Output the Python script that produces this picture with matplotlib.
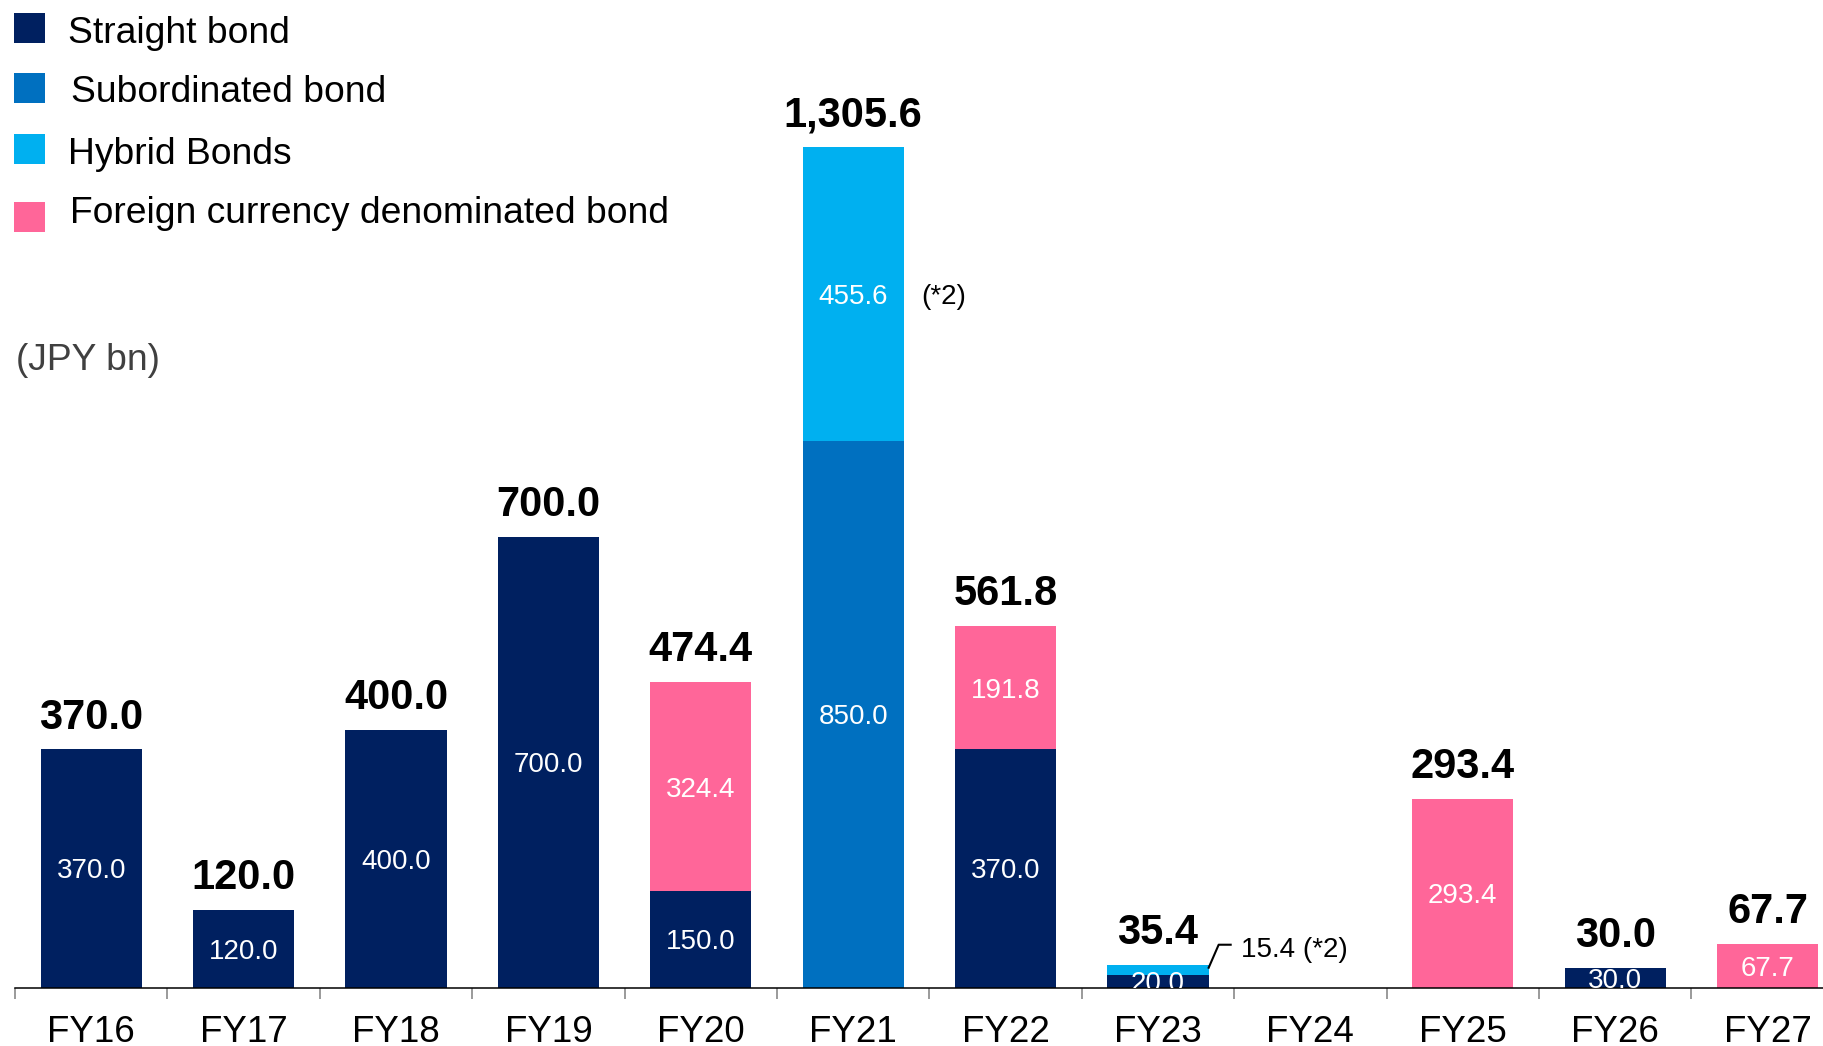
import matplotlib.pyplot as plt
import matplotlib.transforms as mtransforms
from matplotlib.patches import Rectangle

plt.rcParams['font.family'] = ['Liberation Sans', 'DejaVu Sans']

anos = ['FY16', 'FY17', 'FY18', 'FY19', 'FY20', 'FY21', 'FY22', 'FY23', 'FY24', 'FY25', 'FY26', 'FY27']
straight = [370.0, 120.0, 400.0, 700.0, 150.0, 0, 370.0, 20.0, 0, 0, 30.0, 0]
subordinated = [0, 0, 0, 0, 0, 850.0, 0, 0, 0, 0, 0, 0]
hybrid = [0, 0, 0, 0, 0, 455.6, 0, 15.4, 0, 0, 0, 0]
foreign = [0, 0, 0, 0, 324.4, 0, 191.8, 0, 0, 293.4, 0, 67.7]

series = [
    ('Straight bond', straight, '#002060'),
    ('Subordinated bond', subordinated, '#0070C0'),
    ('Hybrid Bonds', hybrid, '#00B0F0'),
    ('Foreign currency denominated bond', foreign, '#FF6699'),
]

W, H = 1823, 1046
fig = plt.figure(figsize=(W / 100, H / 100), dpi=100)
# axes: baseline at y=987.5px, first category boundary at x=15px
ax = fig.add_axes([15 / W, (H - 987.5) / H, (W - 15) / W, 987.5 / H])

x = list(range(len(anos)))
largura = 0.665
base = [0.0] * len(anos)
for nome, vals, cor in series:
    ax.bar(x, vals, largura, bottom=base, color=cor, linewidth=0)
    for i, (v, b) in enumerate(zip(vals, base)):
        if v >= 20:
            t = ax.text(i, b + v / 2, f'{v:.1f}', color='white', fontsize=20,
                        ha='center', va='center_baseline')
            t.set_clip_on(True)
    base = [b + v for b, v in zip(base, vals)]

totais = base
for i, tot in enumerate(totais):
    if tot > 0:
        ax.annotate(f'{tot:,.1f}', xy=(i, tot), xytext=(0, 15), textcoords='offset points',
                    ha='center', va='baseline', fontsize=30, fontweight='bold')

# (*2) note next to FY21 hybrid segment
i21 = anos.index('FY21')
ax.annotate('(*2)', xy=(i21 + largura / 2, subordinated[i21] + hybrid[i21] / 2), xytext=(12.6, 0),
            textcoords='offset points', ha='left', va='center_baseline', fontsize=20)

# leader line for FY23 hybrid
i23 = anos.index('FY23')
topo = totais[i23]
trans = fig.dpi_scale_trans + mtransforms.ScaledTranslation(i23 + largura / 2, topo, ax.transData)
ax.plot([0, 0.10, 0.22], [-0.03, 0.20, 0.20], color='black', lw=1.5, transform=trans, clip_on=False)
ax.text(0.32, 0.18, f'{hybrid[i23]:.1f} (*2)', transform=trans, fontsize=20,
        ha='left', va='center_baseline')

for s in ['left', 'right', 'top']:
    ax.spines[s].set_visible(False)
ax.spines['bottom'].set_linewidth(1.1)
ax.set_yticks([])

ax.set_xticks([i - 0.5 for i in range(len(anos) + 1)])
ax.set_xticklabels([])
ax.tick_params(axis='x', which='major', length=8, width=1.1, color='#7f7f7f', direction='out')
ax.set_xticks(x, anos, minor=True)
ax.tick_params(axis='x', which='minor', length=0, pad=20, labelsize=26.5)

# limits after the ticks, otherwise set_xticks widens them
ax.set_xlim(-0.5, -0.5 + (W - 15) / 152.4)
ax.set_ylim(0, 987.5 / 0.6434)

# legend drawn by hand
leg_y = [(13, 43, 42.7), (73, 103, 101.7), (134, 164, 164.3), (202, 232, 223.3)]
leg_x = [68, 71, 68, 70]
for (nome, vals, cor), (y0, y1, yb), xt in zip(series, leg_y, leg_x):
    fig.add_artist(Rectangle((14 / W, 1 - y1 / H), 31 / W, (y1 - y0) / H, color=cor,
                             transform=fig.transFigure, linewidth=0))
    fig.text(xt / W, 1 - yb / H, nome, fontsize=26.8, va='baseline', ha='left')

fig.text(16 / W, 1 - 370.5 / H, '(JPY bn)', fontsize=26.8, va='baseline', ha='left', color='#404040')

fig.savefig('out.png', dpi=100)
